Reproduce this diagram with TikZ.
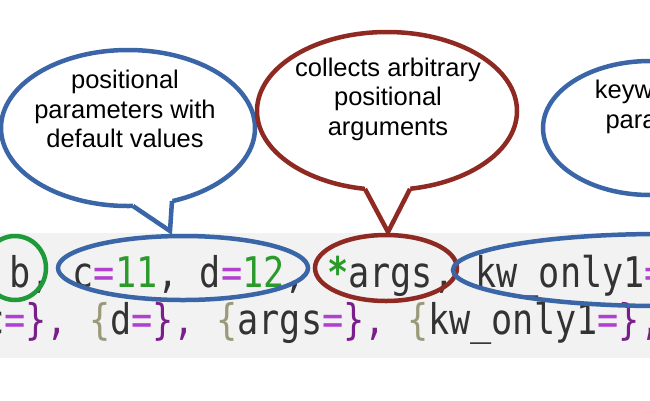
\documentclass[tikz,border=0pt]{standalone}
\usepackage{fontspec}
\setmainfont{Liberation Sans}
\newfontfamily\codefont{DejaVu Sans Mono}
\definecolor{cblue}{HTML}{3A66A8}
\definecolor{cred}{HTML}{8E2A22}
\definecolor{cgreen}{HTML}{1E9A3A}
\definecolor{ceq}{HTML}{B040D0}
\definecolor{cnum}{HTML}{2A9A2A}
\definecolor{cclose}{HTML}{7A1E8C}
\definecolor{copen}{HTML}{9A9A7A}
\definecolor{ctext}{HTML}{333333}
\definecolor{band}{HTML}{F2F2F2}
\newcommand{\Eq}{\textcolor{ceq}{=}}
\newcommand{\Op}{\textcolor{copen}{\{}}
\newcommand{\Cl}{\textcolor{cclose}{\}}}
\newcommand{\Cm}{\textcolor{cclose}{,}}
\begin{document}
\begin{tikzpicture}[x=1pt,y=-1pt,
  ring/.style={line width=4.5pt},
  codetext/.style={anchor=base west,inner sep=0pt,text=ctext,font=\codefont\fontsize{35.2}{40}\selectfont},
  bubbletext/.style={align=center,font=\fontsize{25.5}{29.5}\selectfont,text=black}]
\useasboundingbox (0,0) rectangle (650,400);
\clip (0,0) rectangle (650,400);
\fill[band] (0,233) rectangle (650,358);
\node[codetext] (l1) at (9,287) {\scalebox{1}[1.2]{b, c\Eq\textcolor{cnum}{11}, d\Eq\textcolor{cnum}{12}, \textcolor{cnum}{\textbf{*}}args, kw\_only1\Eq}};
\node[codetext] (l2) at (-17,334) {\scalebox{1}[1.2]{c\Eq\Cl\Cm{} \Op d\Eq\Cl\Cm{} \Op args\Eq\Cl\Cm{} \Op kw\_only1\Eq\Cl\Cm}};
% code rings
\draw[ring,cgreen] (15,268) ellipse [x radius=31, y radius=32];
\draw[ring,cblue] (183,268) ellipse [x radius=125, y radius=32];
\draw[ring,cred] (386,268) ellipse [x radius=71, y radius=33];
\draw[ring,cblue] (660,270) ellipse [x radius=207, y radius=36];
% callout 1
\draw[ring,cblue,fill=white] (128,128) ellipse [x radius=127, y radius=78];
\coordinate (t1) at (170,231);
\fill[white] (133,196) -- (133,206) -- (t1) -- (172,201) -- (172,191) -- cycle;
\draw[ring,cblue,line join=miter] (133,206) -- (t1) -- (172,201);
\node[bubbletext] (b1) at (125,109) {positional\\parameters with\\default values};
% callout 2
\draw[ring,cred,fill=white] (387,111) ellipse [x radius=130, y radius=79];
\coordinate (t2) at (388,232);
\fill[white] (365,179) -- (365,189) -- (t2) -- (410,189) -- (410,179) -- cycle;
\draw[ring,cred,line join=miter] (365,189) -- (t2) -- (410,189);
\node[bubbletext] (b2) at (388,99) {collects arbitrary\\positional\\arguments};
% callout 3
\draw[ring,cblue,fill=white] (650,128) ellipse [x radius=107, y radius=67];
\node[bubbletext] (b3) at (670,107) {keyword-only\\parameters};
\end{tikzpicture}
\end{document}
